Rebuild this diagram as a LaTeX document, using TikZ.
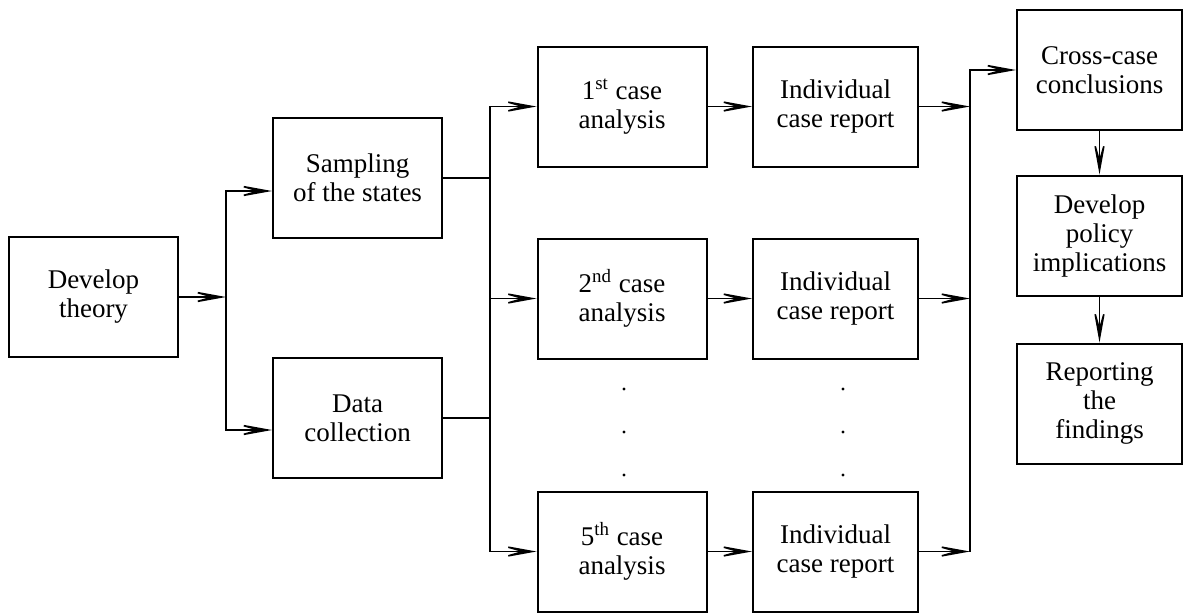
\documentclass[tikz,border=0pt]{standalone}
\usepackage{fontspec}
\setmainfont{Liberation Serif}
\usetikzlibrary{arrows.meta, positioning, calc}

\tikzset{
  box/.style={draw, line width=1pt, minimum width=84.5pt, minimum height=60pt,
    align=center, inner sep=2pt, font=\fontsize{13.5}{14.5}\selectfont},
  flow/.style={line width=0.8pt, -{Stealth[length=22pt, width=8pt, inset=14pt]}},
  link/.style={line width=0.8pt},
}

\begin{document}
\begin{tikzpicture}[x=0.5pt, y=-0.5pt]
    \useasboundingbox (0,0) rectangle (1184,612);
    % Theory and design
    \node[box] (theory) at (93.5,297) {Develop\\theory};
    \node[box] (sampling) at (357.5,178) {Sampling\\of the states};
    \node[box] (data) at (357.5,418) {Data\\collection};
    % Case analyses
    \node[box] (case1) at (622,106.5) {1\textsuperscript{st} case\\analysis};
    \node[box] (case2) at (622,298.5) {2\textsuperscript{nd} case\\analysis};
    \node[box] (case5) at (622,551.5) {5\textsuperscript{th} case\\analysis};
    % Case reports
    \node[box, minimum width=82.5pt] (report1) at (835.5,106.5) {Individual\\case report};
    \node[box, minimum width=82.5pt] (report2) at (835.5,298.5) {Individual\\case report};
    \node[box, minimum width=82.5pt] (report5) at (835.5,551.5) {Individual\\case report};
    % Conclusions
    \node[box, minimum width=82.5pt] (cross) at (1099.5,70) {Cross-case\\conclusions};
    \node[box, minimum width=82.5pt] (policy) at (1099.5,235.5) {Develop\\policy\\implications};
    \node[box, minimum width=82.5pt] (findings) at (1099.5,403.5) {Reporting\\the\\findings};
    % Omitted cases
    \foreach \y in {389,432,475} {
        \fill (624,\y) circle (1.6);
        \fill (843,\y) circle (1.6);
    }
    % Fork after theory
    \coordinate (forkA) at (226,297);
    \coordinate (forkAtop) at (226,191);
    \coordinate (forkAbot) at (226,430);
    \draw[flow] (theory.east) -- (forkA);
    \draw[flow] (forkA) |- (forkAtop -| sampling.west);
    \draw[flow] (forkA) |- (forkAbot -| data.west);
    % Fork into the cases
    \coordinate (forkB) at (490,0);
    \draw[link] (sampling.east) -- (sampling.east -| forkB);
    \draw[link] (data.east) -- (data.east -| forkB);
    \draw[flow] (forkB |- case2) |- (case1.west);
    \draw[flow] (forkB |- case2) |- (case5.west);
    \draw[flow] (forkB |- case2) -- (case2.west);
    % Analyses to reports
    \foreach \n in {1,2,5} {
        \draw[flow] (case\n.east) -- (report\n.west);
    }
    % Fork into conclusions
    \coordinate (forkC) at (970,0);
    \foreach \n in {1,2,5} {
        \draw[flow] (report\n.east) -- (report\n.east -| forkC);
    }
    \draw[flow] (forkC |- report5) |- (cross.west);
    % Final steps
    \draw[flow] (cross) -- (policy);
    \draw[flow] (policy) -- (findings);
\end{tikzpicture}
\end{document}
